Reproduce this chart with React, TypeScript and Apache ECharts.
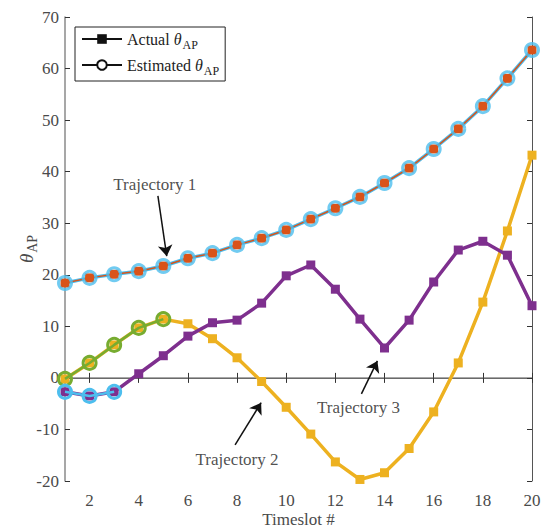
import React, { useEffect, useRef } from "react";
import * as echarts from "echarts";

const timeslots = [1, 2, 3, 4, 5, 6, 7, 8, 9, 10, 11, 12, 13, 14, 15, 16, 17, 18, 19, 20];
const traj1Actual = [18.4, 19.4, 20.1, 20.7, 21.7, 23.2, 24.2, 25.8, 27.1, 28.7, 30.8, 32.9, 35.1, 37.8, 40.7, 44.4, 48.3, 52.7, 58.1, 63.6];
const traj1Estimated = [18.4, 19.4, 20.1, 20.7, 21.7, 23.2, 24.2, 25.8, 27.1, 28.7, 30.8, 32.9, 35.1, 37.8, 40.7, 44.4, 48.3, 52.7, 58.1, 63.6];
const traj2Actual = [-0.2, 2.9, 6.4, 9.7, 11.4, 10.5, 7.6, 3.9, -0.7, -5.7, -10.9, -16.3, -19.7, -18.4, -13.7, -6.6, 2.9, 14.7, 28.5, 43.2];
const traj2Estimated = [-0.2, 2.9, 6.4, 9.7, 11.4];
const traj3Actual = [-2.7, -3.5, -2.7, 0.8, 4.3, 8.1, 10.7, 11.2, 14.5, 19.8, 21.9, 17.2, 11.4, 5.8, 11.2, 18.6, 24.8, 26.5, 23.8, 14.0];
const traj3Estimated = [-2.7, -3.5, -2.7];
const xTicks = [2, 4, 6, 8, 10, 12, 14, 16, 18, 20];

// annotations in data coordinates: label, text anchor, arrow start, arrow end
const annotationLabels = ["Trajectory 1", "Trajectory 2", "Trajectory 3"];
const annotationText = [[4.65, 37.6], [8.0, -15.8], [12.94, -5.8]];
const arrowStart = [[4.78, 35.3], [7.92, -13.0], [13.06, -3.1]];
const arrowEnd = [[5.14, 23.6], [8.98, -4.8], [13.71, 3.3]];

const C = {
  orange: "#D95319",
  cyan: "#4DBEEE",
  yellow: "#EDB120",
  purple: "#7E2F8E",
  green: "#77AC30",
};

const FONT = "'Liberation Serif', 'DejaVu Serif', serif";
const LABEL = "#4a4a4a";

const pairs = (ys: number[]) => ys.map((y, i) => [timeslots[i], y]);

export default function App() {
  const ref = useRef<HTMLDivElement>(null);
  useEffect(() => {
    if (!ref.current) return;
    const chart = echarts.init(ref.current, null, { renderer: "svg" });
    const circleStyle = (color: string) => ({
      color: "rgba(0,0,0,0)",
      borderColor: color,
      borderWidth: 3,
    });
    const option: any = {
      animation: false,
      backgroundColor: "#fff",
      textStyle: { fontFamily: FONT },
      grid: { left: 65, right: 9, top: 17, bottom: 48, containLabel: false, outerBoundsMode: "none" },
      legend: {
        left: 75,
        top: 27,
        orient: "vertical",
        data: ["actual", "estimated"],
        backgroundColor: "#fff",
        borderColor: "#222",
        borderWidth: 1,
        borderRadius: 0,
        padding: [4, 6, 4, 6],
        itemGap: 6,
        itemWidth: 40,
        itemHeight: 12,
        selectedMode: false,
        formatter: (name: string) =>
          name === "actual" ? "{n|Actual }{t|θ}{s|AP}" : "{n|Estimated }{t|θ}{s|AP}",
        textStyle: {
          fontFamily: FONT,
          color: "#222",
          rich: {
            n: { fontSize: 16, fontFamily: FONT, color: "#222" },
            t: { fontSize: 16, fontFamily: FONT, fontStyle: "italic", color: "#222" },
            s: { fontSize: 12, fontFamily: FONT, color: "#222", padding: [12, 0, 0, 1] },
          },
        },
      },
      xAxis: [
        {
          type: "value",
          min: 1,
          max: 20,
          position: "bottom",
          name: "Timeslot #",
          nameLocation: "middle",
          nameGap: 30,
          nameMoveOverlap: false,
          nameTextStyle: { fontFamily: FONT, fontSize: 17, color: LABEL },
          axisLine: { show: true, lineStyle: { color: "#8a8a8a", width: 1.5 } },
          axisTick: { show: true, inside: true, length: 5, customValues: xTicks, lineStyle: { color: "#333" } },
          axisLabel: { customValues: xTicks, fontFamily: FONT, fontSize: 17, color: LABEL, margin: 11 },
          splitLine: { show: false },
        },
        {
          type: "value",
          min: 1,
          max: 20,
          position: "top",
          axisLine: { show: true, lineStyle: { color: "#6a6a6a", width: 1 } },
          axisTick: { show: true, inside: true, length: 5, customValues: xTicks, lineStyle: { color: "#333" } },
          axisLabel: { show: false },
          splitLine: { show: false },
        },
      ],
      yAxis: [
        {
          type: "value",
          min: -20,
          max: 70,
          interval: 10,
          position: "left",
          name: "{t|θ}{s|AP}",
          nameLocation: "middle",
          nameGap: 26,
          nameMoveOverlap: false,
          nameRotate: 90,
          nameTextStyle: {
            rich: {
              t: { fontSize: 19, fontFamily: FONT, fontStyle: "italic", color: LABEL },
              s: { fontSize: 14, fontFamily: FONT, color: LABEL, padding: [12, 0, 0, 1] },
            },
          },
          axisLine: { show: true, lineStyle: { color: "#8a8a8a", width: 1.5 } },
          axisTick: { show: true, inside: true, length: 5, lineStyle: { color: "#333" } },
          axisLabel: { fontFamily: FONT, fontSize: 17, color: LABEL, margin: 6 },
          splitLine: { show: false },
        },
        {
          type: "value",
          min: -20,
          max: 70,
          interval: 10,
          position: "right",
          axisLine: { show: true, lineStyle: { color: "#555", width: 1 } },
          axisTick: { show: true, inside: true, length: 5, lineStyle: { color: "#333" } },
          axisLabel: { show: false },
          splitLine: { show: false },
        },
      ],
      series: [
        // legend dummies
        {
          name: "actual",
          type: "line",
          data: [],
          symbol: "rect",
          symbolSize: 9,
          itemStyle: { color: "#111" },
          lineStyle: { color: "#111", width: 3.5 },
        },
        {
          name: "estimated",
          type: "line",
          data: [],
          symbol: "circle",
          symbolSize: 9,
          itemStyle: { color: "#fff", borderColor: "#111", borderWidth: 2.5 },
          lineStyle: { color: "#111", width: 2 },
        },
        // Trajectory 1
        {
          type: "line",
          data: pairs(traj1Estimated),
          showSymbol: false,
          lineStyle: { color: C.cyan, width: 3.5 },
          z: 2,
        },
        {
          type: "line",
          data: pairs(traj1Actual),
          symbol: "rect",
          symbolSize: 9,
          itemStyle: { color: C.orange },
          lineStyle: { color: C.orange, width: 1.5 },
          z: 3,
        },
        {
          type: "scatter",
          data: pairs(traj1Estimated),
          symbol: "circle",
          symbolSize: 13,
          itemStyle: circleStyle(C.cyan),
          z: 4,
        },
        // Trajectory 2
        {
          type: "line",
          data: pairs(traj2Actual),
          symbol: "rect",
          symbolSize: 9,
          itemStyle: { color: C.yellow },
          lineStyle: { color: C.yellow, width: 3.5 },
          z: 2,
        },
        {
          type: "line",
          data: pairs(traj2Estimated),
          symbol: "circle",
          symbolSize: 13,
          itemStyle: circleStyle(C.green),
          lineStyle: { color: C.green, width: 2.5 },
          z: 3,
        },
        // Trajectory 3
        {
          type: "line",
          data: pairs(traj3Actual),
          symbol: "rect",
          symbolSize: 9,
          itemStyle: { color: C.purple },
          lineStyle: { color: C.purple, width: 3.5 },
          z: 2,
        },
        {
          type: "line",
          data: pairs(traj3Estimated),
          symbol: "circle",
          symbolSize: 13,
          itemStyle: circleStyle(C.cyan),
          lineStyle: { color: C.cyan, width: 2.5 },
          z: 3,
        },
        // annotations
        {
          type: "scatter",
          data: annotationText.map((p, i) => ({ value: p, name: annotationLabels[i] })),
          symbolSize: 0,
          silent: true,
          z: 5,
          label: {
            show: true,
            position: "inside",
            formatter: (p: any) => p.name,
            fontFamily: FONT,
            fontSize: 17,
            color: "#222",
          },
          markLine: {
            silent: true,
            symbol: ["none", "arrow"],
            symbolSize: 11,
            label: { show: false },
            itemStyle: { color: "#111" },
            lineStyle: { color: "#111", width: 1.5, type: "solid" },
            data: arrowStart.map((s, i) => [{ coord: s }, { coord: arrowEnd[i] }]),
          },
        },
      ],
    };
    chart.setOption(option);
    return () => chart.dispose();
  }, []);
  return (
    <div
      ref={ref}
      style={{ position: "fixed", left: 0, top: 0, width: 541, height: 529 }}
    />
  );
}
